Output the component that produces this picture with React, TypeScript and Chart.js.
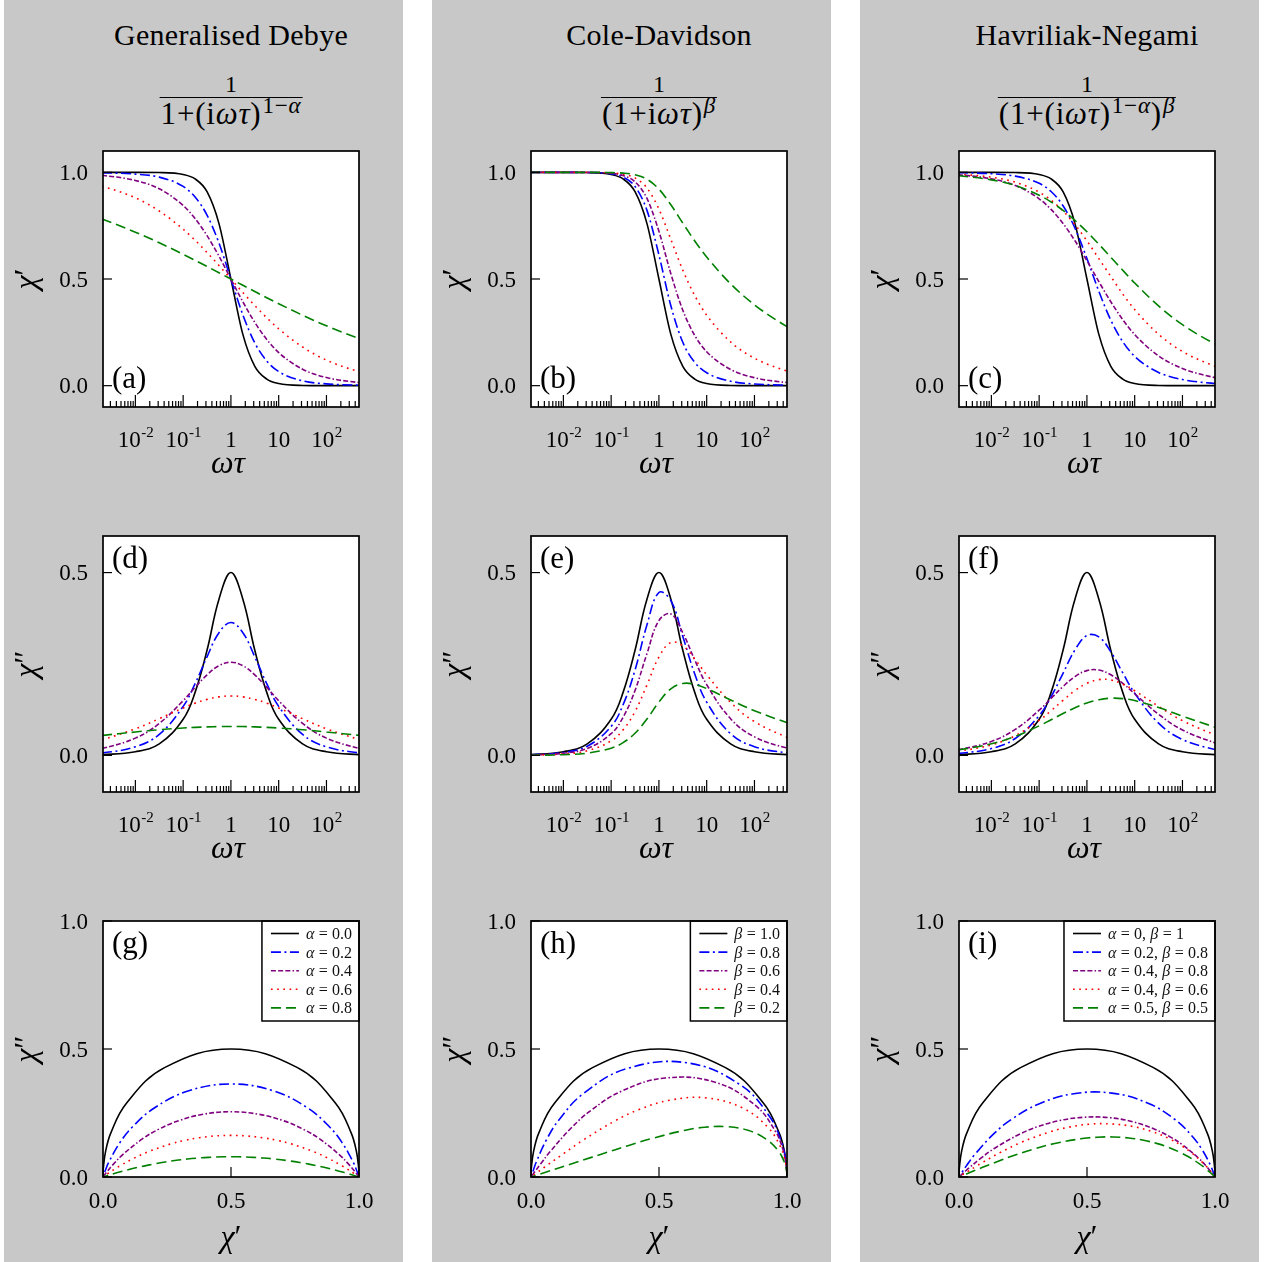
import React, { useEffect, useRef } from 'react';
import { Chart, registerables } from 'chart.js';

Chart.register(...registerables);

const FONT = '"Liberation Serif", "Times New Roman", serif';

// ---------------- data ----------------
// reduced angular frequency ωτ at which every curve was read
const omegaTau = [1e-20, 1e-6, 1e-4, 1e-3, 0.002, 0.01, 0.03162, 0.1, 0.1778, 0.3162, 0.5623, 1, 1.778, 3.162, 5.623, 10, 31.62, 100, 500, 1000, 1e4, 1e6, 1e20];
const omegaMin = 0.0021;
const omegaMax = 480;

// Generalised Debye
const gdLabels = ['α = 0.0', 'α = 0.2', 'α = 0.4', 'α = 0.6', 'α = 0.8'];
const gdRe00 = [1, 1, 1, 1, 1, 0.9999, 0.999, 0.9901, 0.9693, 0.9091, 0.7597, 0.5, 0.2403, 0.0909, 0.0307, 0.0099, 0.001, 0.0001, 0, 0, 0, 0, 0];
const gdIm00 = [0, 0, 0.0001, 0.001, 0.002, 0.01, 0.0316, 0.099, 0.1724, 0.2875, 0.4272, 0.5, 0.4272, 0.2875, 0.1724, 0.099, 0.0316, 0.01, 0.002, 0.001, 0.0001, 0, 0];
const gdRe02 = [1, 1, 0.9998, 0.9988, 0.9978, 0.9917, 0.9775, 0.934, 0.8845, 0.7996, 0.6683, 0.5, 0.3317, 0.2004, 0.1155, 0.066, 0.0225, 0.0083, 0.0022, 0.0012, 0.0002, 0, 0];
const gdIm02 = [0, 0, 0.0006, 0.0038, 0.0066, 0.0235, 0.0575, 0.1342, 0.1961, 0.2696, 0.3356, 0.3633, 0.3356, 0.2696, 0.1961, 0.1342, 0.0575, 0.0235, 0.0066, 0.0038, 0.0006, 0, 0];
const gdRe04 = [1, 0.9999, 0.9977, 0.9906, 0.9857, 0.9619, 0.9228, 0.8449, 0.7832, 0.7034, 0.6069, 0.5, 0.3931, 0.2966, 0.2168, 0.1551, 0.0772, 0.0381, 0.0143, 0.0094, 0.0023, 0.0001, 0];
const gdIm04 = [0, 0.0002, 0.0032, 0.0126, 0.0189, 0.0473, 0.0875, 0.1496, 0.186, 0.2203, 0.2454, 0.2548, 0.2454, 0.2203, 0.186, 0.1496, 0.0875, 0.0473, 0.0189, 0.0126, 0.0032, 0.0002, 0];
const gdRe06 = [1, 0.9968, 0.9799, 0.9502, 0.9349, 0.8804, 0.8188, 0.7334, 0.6816, 0.6244, 0.5633, 0.5, 0.4367, 0.3756, 0.3184, 0.2666, 0.1812, 0.1196, 0.0651, 0.0498, 0.0201, 0.0032, 0];
const gdIm06 = [0, 0.0023, 0.0142, 0.0335, 0.0429, 0.0727, 0.1005, 0.1298, 0.1429, 0.1533, 0.1601, 0.1625, 0.1601, 0.1533, 0.1429, 0.1298, 0.1005, 0.0727, 0.0429, 0.0335, 0.0142, 0.0023, 0];
const gdRe08 = [0.9999, 0.9431, 0.8674, 0.804, 0.7808, 0.7196, 0.6698, 0.6158, 0.5876, 0.5587, 0.5295, 0.5, 0.4705, 0.4413, 0.4124, 0.3842, 0.3302, 0.2804, 0.2192, 0.196, 0.1326, 0.0569, 0.0001];
const gdIm08 = [0, 0.0174, 0.0369, 0.0504, 0.0546, 0.0642, 0.0703, 0.075, 0.0768, 0.0781, 0.0789, 0.0792, 0.0789, 0.0781, 0.0768, 0.075, 0.0703, 0.0642, 0.0546, 0.0504, 0.0369, 0.0174, 0];

// Cole-Davidson
const cdLabels = ['β = 1.0', 'β = 0.8', 'β = 0.6', 'β = 0.4', 'β = 0.2'];
const cdRe10 = [1, 1, 1, 1, 1, 0.9999, 0.999, 0.9901, 0.9693, 0.9091, 0.7597, 0.5, 0.2403, 0.0909, 0.0307, 0.0099, 0.001, 0.0001, 0, 0, 0, 0, 0];
const cdIm10 = [0, 0, 0.0001, 0.001, 0.002, 0.01, 0.0316, 0.099, 0.1724, 0.2875, 0.4272, 0.5, 0.4272, 0.2875, 0.1724, 0.099, 0.0316, 0.01, 0.002, 0.001, 0.0001, 0, 0];
const cdRe08 = [1, 1, 1, 1, 1, 0.9999, 0.9993, 0.9929, 0.9779, 0.9339, 0.8217, 0.6131, 0.3744, 0.2033, 0.109, 0.0606, 0.021, 0.008, 0.0022, 0.0012, 0.0002, 0, 0];
const cdIm08 = [0, 0, 0.0001, 0.0008, 0.0016, 0.008, 0.0253, 0.0793, 0.1386, 0.2335, 0.357, 0.4455, 0.4235, 0.3249, 0.2229, 0.1458, 0.0595, 0.0238, 0.0066, 0.0038, 0.0006, 0, 0];
const cdRe06 = [1, 1, 1, 1, 1, 0.9999, 0.9995, 0.9952, 0.9852, 0.9554, 0.8777, 0.7237, 0.5248, 0.3535, 0.2354, 0.1591, 0.0759, 0.0374, 0.0141, 0.0093, 0.0023, 0.0002, 0];
const cdIm06 = [0, 0, 0.0001, 0.0006, 0.0012, 0.006, 0.019, 0.0596, 0.1044, 0.1776, 0.2786, 0.3688, 0.3868, 0.3351, 0.261, 0.1935, 0.1004, 0.0508, 0.0194, 0.0128, 0.0032, 0.0002, 0];
const cdRe04 = [1, 1, 1, 1, 1, 1, 0.9997, 0.9972, 0.9913, 0.9738, 0.9267, 0.8279, 0.6855, 0.5415, 0.4226, 0.3305, 0.205, 0.1286, 0.0674, 0.0511, 0.0203, 0.0032, 0];
const cdIm04 = [0, 0, 0, 0.0004, 0.0008, 0.004, 0.0126, 0.0398, 0.0699, 0.1199, 0.1926, 0.269, 0.3089, 0.2999, 0.2637, 0.2205, 0.145, 0.0926, 0.0489, 0.0371, 0.0148, 0.0023, 0];
const cdRe02 = [1, 1, 1, 1, 1, 1, 0.9999, 0.9988, 0.9963, 0.9887, 0.9678, 0.9215, 0.8477, 0.7618, 0.6785, 0.6032, 0.4776, 0.3789, 0.2745, 0.2389, 0.1507, 0.06, 0.0001];
const cdIm02 = [0, 0, 0, 0.0002, 0.0004, 0.002, 0.0063, 0.0199, 0.0351, 0.0606, 0.0995, 0.146, 0.1822, 0.1969, 0.1943, 0.1828, 0.1518, 0.1223, 0.0891, 0.0776, 0.049, 0.0195, 0];

// Havriliak-Negami
const hnLabels = ['α = 0, β = 1', 'α = 0.2, β = 0.8', 'α = 0.4, β = 0.8', 'α = 0.4, β = 0.6', 'α = 0.5, β = 0.5'];
const hnRe1 = [1, 1, 1, 1, 1, 0.9999, 0.999, 0.9901, 0.9693, 0.9091, 0.7597, 0.5, 0.2403, 0.0909, 0.0307, 0.0099, 0.001, 0.0001, 0, 0, 0, 0, 0];
const hnIm1 = [0, 0, 0.0001, 0.001, 0.002, 0.01, 0.0316, 0.099, 0.1724, 0.2875, 0.4272, 0.5, 0.4272, 0.2875, 0.1724, 0.099, 0.0316, 0.01, 0.002, 0.001, 0.0001, 0, 0];
const hnRe2 = [1, 1, 0.9998, 0.999, 0.9983, 0.9934, 0.9822, 0.9484, 0.91, 0.8436, 0.7383, 0.5963, 0.4421, 0.3071, 0.2063, 0.1374, 0.062, 0.0288, 0.0101, 0.0065, 0.0015, 0.0001, 0];
const hnIm2 = [0, 0, 0.0005, 0.003, 0.0053, 0.0188, 0.0462, 0.1088, 0.1605, 0.2246, 0.2884, 0.3278, 0.3244, 0.2833, 0.226, 0.1702, 0.0882, 0.0435, 0.0157, 0.0101, 0.0023, 0.0001, 0];
const hnRe3 = [1, 0.9999, 0.9981, 0.9925, 0.9886, 0.9696, 0.9384, 0.876, 0.8261, 0.7605, 0.6791, 0.5857, 0.4875, 0.3933, 0.3096, 0.2395, 0.1396, 0.0804, 0.037, 0.0265, 0.0088, 0.001, 0];
const hnIm3 = [0, 0.0002, 0.0026, 0.0101, 0.0152, 0.0382, 0.0711, 0.1236, 0.1559, 0.1884, 0.2156, 0.2319, 0.2334, 0.2205, 0.1972, 0.1687, 0.1125, 0.0697, 0.0337, 0.0244, 0.0082, 0.0009, 0];
const hnRe4 = [1, 0.9999, 0.9986, 0.9944, 0.9914, 0.9773, 0.954, 0.9072, 0.8694, 0.819, 0.755, 0.679, 0.5954, 0.5121, 0.4295, 0.3567, 0.2407, 0.1602, 0.09, 0.0702, 0.0307, 0.0058, 0];
const hnIm4 = [0, 0.0001, 0.0019, 0.0076, 0.0114, 0.0288, 0.0542, 0.0957, 0.1224, 0.1508, 0.1773, 0.1973, 0.2072, 0.2065, 0.1946, 0.1769, 0.1342, 0.0951, 0.0557, 0.0438, 0.0194, 0.0037, 0];
const hnRe5 = [1, 0.9997, 0.9965, 0.9888, 0.9842, 0.9648, 0.9381, 0.893, 0.8609, 0.8216, 0.7749, 0.7215, 0.6632, 0.6021, 0.5408, 0.4814, 0.3739, 0.2858, 0.1935, 0.1632, 0.0922, 0.0292, 0];
const hnIm5 = [0, 0.0004, 0.0035, 0.0108, 0.0151, 0.0318, 0.0522, 0.0809, 0.0976, 0.1146, 0.1304, 0.1435, 0.1524, 0.1564, 0.1554, 0.1501, 0.131, 0.1074, 0.0767, 0.0655, 0.0378, 0.0121, 0];

// tick labels
const logTickValues = [0.01, 0.1, 1, 10, 100];
const logTickBases = ['10', '10', '1', '10', '10'];
const logTickExps = ['-2', '-1', '', '', '2'];
const reTickValues = [0, 0.5, 1];
const reTickLabels = ['0.0', '0.5', '1.0'];
const imTickValues = [0, 0.5];
const imTickLabels = ['0.0', '0.5'];
const coleTickValues = [0, 0.5, 1];
const coleTickLabels = ['0.0', '0.5', '1.0'];

const columnTitles = ['Generalised Debye', 'Cole-Davidson', 'Havriliak-Negami'];
const panelLetters = [['(a)', '(d)', '(g)'], ['(b)', '(e)', '(h)'], ['(c)', '(f)', '(i)']];
const yAxisTitles = ['χ′', 'χ″', 'χ″'];
const xAxisTitles = ['ωτ', 'ωτ', 'χ′'];

const COLUMN_DATA = [
  { labels: gdLabels, re: [gdRe00, gdRe02, gdRe04, gdRe06, gdRe08], im: [gdIm00, gdIm02, gdIm04, gdIm06, gdIm08] },
  { labels: cdLabels, re: [cdRe10, cdRe08, cdRe06, cdRe04, cdRe02], im: [cdIm10, cdIm08, cdIm06, cdIm04, cdIm02] },
  { labels: hnLabels, re: [hnRe1, hnRe2, hnRe3, hnRe4, hnRe5], im: [hnIm1, hnIm2, hnIm3, hnIm4, hnIm5] },
];

// ---------------- styles & layout ----------------
const COLORS = ['#000000', '#0000ff', '#800080', '#ff0000', '#008000'];
const DASHES: number[][] = [[], [10, 3.5, 2, 3.5], [5, 2.2, 5, 2.2, 5, 2.2, 1.5, 2.2], [1.7, 4.5], [10, 5]];
const GREY = '#c8c8c8';
const COL_LEFT = 4;
const COL_STEP = 428;
const COL_W = 399;
const ROW_TOP = [140, 525, 910];
const ROW_H = [385, 385, 352];
const PAD_L = 99;
const PAD_R = 44;
const PAD_T = 11;
const PLOT = 256;
const Y_RANGE = [[-0.1, 1.1], [-0.1, 0.6], [0, 1]];

const GREEK = /[αβωτχ]/;

function drawMath(ctx: CanvasRenderingContext2D, text: string, x: number, y: number, size: number, align: string) {
  const pieces: { t: string; font: string; w: number }[] = [];
  for (const ch of Array.from(text)) {
    if (ch === ' ') {
      pieces.push({ t: '', font: '', w: size * 0.27 });
      continue;
    }
    const font = (GREEK.test(ch) ? 'italic ' : '') + size + 'px ' + FONT;
    ctx.font = font;
    pieces.push({ t: ch, font, w: ctx.measureText(ch).width });
  }
  const total = pieces.reduce((s, p) => s + p.w, 0);
  let cx = align === 'center' ? x - total / 2 : align === 'right' ? x - total : x;
  ctx.textAlign = 'left';
  ctx.textBaseline = 'alphabetic';
  for (const p of pieces) {
    if (p.t) {
      ctx.font = p.font;
      ctx.fillText(p.t, cx, y);
    }
    cx += p.w;
  }
  return total;
}

function mathWidth(ctx: CanvasRenderingContext2D, text: string, size: number) {
  let w = 0;
  for (const ch of Array.from(text)) {
    if (ch === ' ') { w += size * 0.27; continue; }
    ctx.font = (GREEK.test(ch) ? 'italic ' : '') + size + 'px ' + FONT;
    w += ctx.measureText(ch).width;
  }
  return w;
}

function line(ctx: CanvasRenderingContext2D, x1: number, y1: number, x2: number, y2: number) {
  ctx.beginPath();
  ctx.moveTo(x1, y1);
  ctx.lineTo(x2, y2);
  ctx.stroke();
}

function makeDeco(col: number, row: number) {
  return {
    id: 'deco' + col + row,
    beforeDatasetsDraw(chart: any) {
      const { ctx, chartArea: a } = chart;
      ctx.save();
      ctx.fillStyle = '#ffffff';
      ctx.fillRect(a.left, a.top, a.right - a.left, a.bottom - a.top);
      ctx.restore();
    },
    afterDatasetsDraw(chart: any) {
      const ctx: CanvasRenderingContext2D = chart.ctx;
      const a = chart.chartArea;
      const xs = chart.scales.x;
      const ys = chart.scales.y;
      ctx.save();
      ctx.fillStyle = '#000';
      ctx.strokeStyle = '#000';
      ctx.setLineDash([]);

      // legend (bottom row)
      if (row === 2) {
        const labels = COLUMN_DATA[col].labels;
        const size = 16;
        const maxW = Math.max(...labels.map((l) => mathWidth(ctx, l, size)));
        const boxW = 44 + maxW + 7;
        const boxH = 100;
        const bx = a.right - boxW;
        const by = a.top;
        ctx.fillStyle = '#fff';
        ctx.fillRect(bx, by, boxW, boxH);
        ctx.lineWidth = 1.5;
        ctx.strokeStyle = '#000';
        ctx.strokeRect(bx, by, boxW, boxH);
        labels.forEach((l, i) => {
          const y = by + 12.5 + 18.6 * i;
          ctx.strokeStyle = COLORS[i];
          ctx.lineWidth = 1.6;
          ctx.setLineDash(DASHES[i]);
          line(ctx, bx + 9, y, bx + 37, y);
          ctx.setLineDash([]);
          ctx.fillStyle = '#111';
          drawMath(ctx, l, bx + 44, y + 5.5, size, 'left');
        });
        ctx.strokeStyle = '#000';
        ctx.fillStyle = '#000';
      }

      // frame
      ctx.lineWidth = 1.7;
      ctx.strokeRect(a.left, a.top, a.right - a.left, a.bottom - a.top);

      // y ticks + labels
      ctx.lineWidth = 1.2;
      const yt = row === 0 ? reTickValues : row === 1 ? imTickValues : coleTickValues;
      const yl = row === 0 ? reTickLabels : row === 1 ? imTickLabels : coleTickLabels;
      yt.forEach((v, i) => {
        const py = ys.getPixelForValue(v);
        line(ctx, a.left, py, a.left + 9, py);
        ctx.font = '23px ' + FONT;
        ctx.textAlign = 'right';
        ctx.textBaseline = 'alphabetic';
        ctx.fillText(yl[i], a.left - 15, py + 7.5);
      });

      // x ticks + labels
      if (row < 2) {
        for (let d = -3; d <= 3; d++) {
          for (let k = 1; k <= 9; k++) {
            const v = k * Math.pow(10, d);
            if (v < omegaMin || v > omegaMax) continue;
            const px = xs.getPixelForValue(v);
            line(ctx, px, a.bottom, px, a.bottom - (k === 1 ? 12 : 6));
          }
        }
        logTickValues.forEach((v, i) => {
          const px = xs.getPixelForValue(v);
          ctx.font = '23px ' + FONT;
          const wb = ctx.measureText(logTickBases[i]).width;
          ctx.font = '15px ' + FONT;
          const we = logTickExps[i] ? ctx.measureText(logTickExps[i]).width : 0;
          const x0 = px - (wb + we) / 2;
          ctx.textAlign = 'left';
          ctx.font = '23px ' + FONT;
          ctx.fillText(logTickBases[i], x0, a.bottom + 40);
          if (logTickExps[i]) {
            ctx.font = '15px ' + FONT;
            ctx.fillText(logTickExps[i], x0 + wb + 0.5, a.bottom + 30);
          }
        });
      } else {
        coleTickValues.forEach((v, i) => {
          const px = xs.getPixelForValue(v);
          line(ctx, px, a.bottom, px, a.bottom - 10);
          ctx.font = '23px ' + FONT;
          ctx.textAlign = 'center';
          ctx.fillText(coleTickLabels[i], px, a.bottom + 31);
        });
      }

      // axis titles
      ctx.save();
      ctx.translate(a.left - 67, (a.top + a.bottom) / 2);
      ctx.rotate(-Math.PI / 2);
      drawMath(ctx, yAxisTitles[row], 0, 0, 32, 'center');
      ctx.restore();
      const cx = (a.left + a.right) / 2;
      drawMath(ctx, xAxisTitles[row], row < 2 ? cx - 3 : cx, a.bottom + (row < 2 ? 66 : 70), 32, 'center');

      // panel letter
      ctx.font = '31px ' + FONT;
      ctx.textAlign = 'left';
      ctx.fillText(panelLetters[col][row], a.left + 9, row === 0 ? a.bottom - 19 : a.top + 32);

      ctx.restore();
    },
  };
}

function Panel({ col, row }: { col: number; row: number }) {
  const ref = useRef<HTMLCanvasElement>(null);
  const left = COL_LEFT + COL_STEP * col;
  const top = ROW_TOP[row];
  const height = ROW_H[row];

  useEffect(() => {
    const canvas = ref.current;
    if (!canvas) return;
    const src = COLUMN_DATA[col];
    const datasets = src.re.map((re, i) => {
      const im = src.im[i];
      const data = omegaTau.map((w, k) =>
        row === 0 ? { x: w, y: re[k] } : row === 1 ? { x: w, y: im[k] } : { x: re[k], y: im[k] }
      );
      return {
        label: src.labels[i],
        data,
        showLine: true,
        borderColor: COLORS[i],
        backgroundColor: COLORS[i],
        borderWidth: 1.6,
        borderDash: DASHES[i],
        pointRadius: 0,
        pointHoverRadius: 0,
        fill: false,
        order: 4 - i,
        tension: row === 0 ? 0 : 0.4,
        cubicInterpolationMode: row === 0 ? 'monotone' : 'default',
      };
    });
    const chart = new Chart(canvas, {
      type: 'scatter',
      data: { datasets } as any,
      options: {
        responsive: false,
        animation: false,
        devicePixelRatio: 1,
        events: [],
        layout: { padding: { left: PAD_L, right: PAD_R, top: PAD_T, bottom: height - PAD_T - PLOT } },
        plugins: { legend: { display: false }, tooltip: { enabled: false }, title: { display: false } },
        scales: {
          x: row < 2
            ? { type: 'logarithmic', min: omegaMin, max: omegaMax, display: false }
            : { type: 'linear', min: 0, max: 1, display: false },
          y: { type: 'linear', min: Y_RANGE[row][0], max: Y_RANGE[row][1], display: false },
        },
      } as any,
      plugins: [makeDeco(col, row)],
    });
    return () => chart.destroy();
  }, [col, row, height]);

  return (
    <canvas
      ref={ref}
      width={COL_W}
      height={height}
      style={{ position: 'absolute', left, top, width: COL_W, height }}
    />
  );
}

const Sup = ({ children }: { children: React.ReactNode }) => (
  <span style={{ fontSize: 23, position: 'relative', top: -11, marginLeft: 1 }}>{children}</span>
);

const I = ({ children }: { children: React.ReactNode }) => <i>{children}</i>;

const denominators = [
  <>1+(i<I>ω</I><I>τ</I>)<Sup>1−<I>α</I></Sup></>,
  <>(1+i<I>ω</I><I>τ</I>)<Sup><I>β</I></Sup></>,
  <>(1+(i<I>ω</I><I>τ</I>)<Sup>1−<I>α</I></Sup>)<Sup><I>β</I></Sup></>,
];

export default function App() {
  const cols = [0, 1, 2];
  const rows = [0, 1, 2];
  return (
    <div
      style={{
        position: 'absolute', left: 0, top: 0, width: 1268, height: 1262, overflow: 'hidden',
        background: '#ffffff', fontFamily: FONT, color: '#000',
      }}
    >
      {cols.map((c) => (
        <div key={'bg' + c} style={{ position: 'absolute', left: COL_LEFT + COL_STEP * c, top: 0, width: COL_W, height: 1262, background: GREY }} />
      ))}
      {cols.map((c) => {
        const cx = COL_LEFT + COL_STEP * c + PAD_L + PLOT / 2;
        return (
          <React.Fragment key={'t' + c}>
            <div style={{ position: 'absolute', left: cx, top: 20, transform: 'translateX(-50%)', fontSize: 30, lineHeight: '30px', letterSpacing: 0.3, whiteSpace: 'nowrap' }}>
              {columnTitles[c]}
            </div>
            <div style={{ position: 'absolute', left: cx, top: 73, transform: 'translateX(-50%)', display: 'flex', flexDirection: 'column', alignItems: 'center', whiteSpace: 'nowrap' }}>
              <div style={{ fontSize: 24, lineHeight: '22px' }}>1</div>
              <div style={{ alignSelf: 'stretch', borderTop: '1.6px solid #000', marginTop: 2 }} />
              <div style={{ fontSize: 31, lineHeight: '30px', letterSpacing: 0.8, padding: '0 1px', marginTop: 1 }}>{denominators[c]}</div>
            </div>
          </React.Fragment>
        );
      })}
      {cols.map((c) => rows.map((r) => <Panel key={'p' + c + r} col={c} row={r} />))}
    </div>
  );
}
